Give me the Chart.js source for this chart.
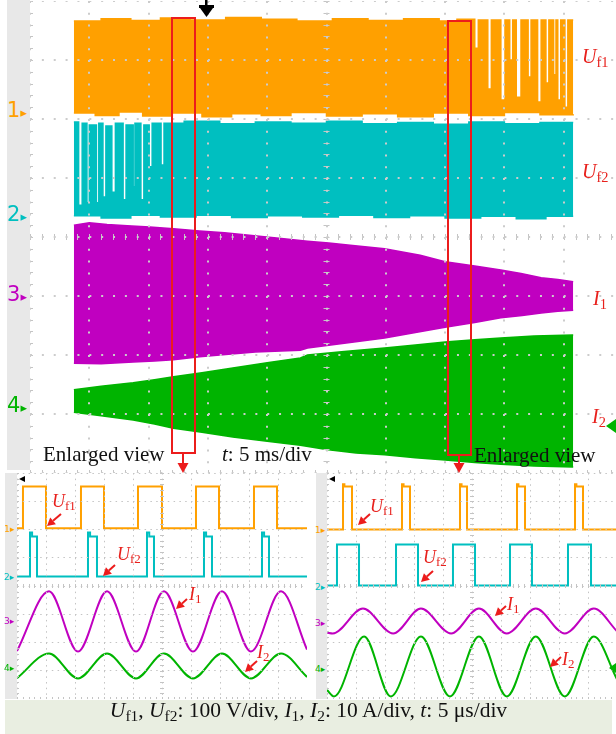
<!DOCTYPE html>
<html lang="en">
<head>
<meta charset="UTF-8">
<meta name="viewport" content="width=device-width, initial-scale=1.0">
<title>Uf1, Uf2, I1, I2 scope capture</title>
<script src="https://cdn.jsdelivr.net/npm/chart.js"></script>
<style>
    body { margin: 0; width: 616px; height: 734px; overflow: hidden; position: relative; background: #fff;
           font-family: "Liberation Serif", "DejaVu Serif", serif; }
    .clip { position: absolute; overflow: hidden; }
    .strip { position: absolute; background: #e8e8e8; }
    .t { position: absolute; white-space: nowrap; line-height: 1; color: #111; }
    .red { color: #e8201c; }
    .t i { font-style: italic; }
    .sb { font-size: 0.72em; position: relative; top: 0.25em; }
    .ch { position: absolute; line-height: 1; white-space: nowrap; font-family: "DejaVu Sans", sans-serif; }
    #caption { position: absolute; left: 5px; top: 700px; width: 607px; height: 34px; background: #e9eee1;
               text-align: center; font-size: 21.5px; line-height: 1; padding-top: 0; box-sizing: border-box; color: #111; }
    #marks { position: absolute; left: 0; top: 0; }
</style>
</head>
<body>

<div class="strip" style="left:7px;top:0;width:23px;height:470px"></div>
<div class="strip" style="left:5px;top:473px;width:12px;height:226px"></div>
<div class="strip" style="left:316px;top:473px;width:11px;height:226px"></div>

<div class="clip" style="left:30px;top:1px;width:586px;height:472px"><canvas id="longView" width="593" height="472"></canvas></div>
<div class="clip" style="left:17px;top:473px;width:290px;height:226px"><canvas id="zoomLeft" width="290" height="226"></canvas></div>
<div class="clip" style="left:327px;top:473px;width:289px;height:226px"><canvas id="zoomRight" width="290" height="226"></canvas></div>

<!-- channel markers -->
<div class="ch" style="left:7px;top:100px;font-size:21px;color:#ffa000">1<span style="font-size:13px">▸</span></div>
<div class="ch" style="left:7px;top:204px;font-size:21px;color:#00bfc0">2<span style="font-size:13px">▸</span></div>
<div class="ch" style="left:7px;top:284px;font-size:21px;color:#c000c0">3<span style="font-size:13px">▸</span></div>
<div class="ch" style="left:7px;top:395px;font-size:21px;color:#00b400">4<span style="font-size:13px">▸</span></div>

<div class="ch" style="left:4px;top:525px;font-size:9px;color:#ffa000">1▸</div>
<div class="ch" style="left:4px;top:573px;font-size:9px;color:#00bfc0">2▸</div>
<div class="ch" style="left:4px;top:617px;font-size:9px;color:#c000c0">3▸</div>
<div class="ch" style="left:4px;top:664px;font-size:9px;color:#00b400">4▸</div>
<div class="ch" style="left:315px;top:526px;font-size:9px;color:#ffa000">1▸</div>
<div class="ch" style="left:315px;top:583px;font-size:9px;color:#00bfc0">2▸</div>
<div class="ch" style="left:315px;top:619px;font-size:9px;color:#c000c0">3▸</div>
<div class="ch" style="left:315px;top:665px;font-size:9px;color:#00b400">4▸</div>

<!-- trace names, long view -->
<div class="t red" style="left:582px;top:46px;font-size:20px"><i>U</i><span class="sb">f1</span></div>
<div class="t red" style="left:582px;top:161px;font-size:20px"><i>U</i><span class="sb">f2</span></div>
<div class="t red" style="left:593px;top:288px;font-size:20px"><i>I</i><span class="sb">1</span></div>
<div class="t red" style="left:592px;top:406px;font-size:20px"><i>I</i><span class="sb">2</span></div>

<div class="t" style="left:43px;top:444px;font-size:21px">Enlarged view</div>
<div class="t" style="left:222px;top:444px;font-size:21px"><i>t</i>: 5 ms/div</div>
<div class="t" style="left:474px;top:445px;font-size:21px">Enlarged view</div>

<!-- trace names, enlarged views -->
<div class="t red" style="left:52px;top:492px;font-size:18px"><i>U</i><span class="sb">f1</span></div>
<div class="t red" style="left:117px;top:545px;font-size:18px"><i>U</i><span class="sb">f2</span></div>
<div class="t red" style="left:189px;top:585px;font-size:18px"><i>I</i><span class="sb">1</span></div>
<div class="t red" style="left:257px;top:643px;font-size:18px"><i>I</i><span class="sb">2</span></div>
<div class="t red" style="left:370px;top:497px;font-size:18px"><i>U</i><span class="sb">f1</span></div>
<div class="t red" style="left:423px;top:548px;font-size:18px"><i>U</i><span class="sb">f2</span></div>
<div class="t red" style="left:507px;top:595px;font-size:18px"><i>I</i><span class="sb">1</span></div>
<div class="t red" style="left:562px;top:650px;font-size:18px"><i>I</i><span class="sb">2</span></div>

<div id="caption"><i>U</i><span class="sb">f1</span>, <i>U</i><span class="sb">f2</span>: 100 V/div, <i>I</i><span class="sb">1</span>, <i>I</i><span class="sb">2</span>: 10 A/div, <i>t</i>: 5 μs/div</div>

<svg id="marks" width="616" height="734"></svg>

<script>
    // long capture, t in ms (5 ms/div), values in screen divisions (centre = 0)
    const uf1Top = [[3.7, 3.66], [6.0, 3.70], [8.5, 3.67], [11.0, 3.71], [13.5, 3.68], [16.5, 3.72], [19.5, 3.69],
        [22.5, 3.66], [25.5, 3.70], [28.5, 3.67], [31.5, 3.70], [34.5, 3.66], [36.0, 3.69],
        [37.5, 3.20], [37.8, 3.68], [38.6, 2.51], [38.9, 3.68], [39.7, 2.32], [40.05, 3.68], [40.45, 3.00],
        [40.7, 3.68], [41.0, 2.37], [41.4, 3.68], [42.0, 2.71], [42.25, 3.68], [42.8, 2.29], [43.1, 3.68],
        [43.5, 2.61], [43.75, 3.68], [44.15, 2.75], [44.35, 3.68], [44.5, 2.32], [44.75, 3.68],
        [45.1, 2.20], [45.35, 3.68], [45.8, 3.68]];
    const uf1Bottom = [[3.7, 2.10], [5.5, 2.06], [7.5, 2.12], [9.5, 2.05], [12.0, 2.10], [14.5, 2.04], [17.0, 2.09],
        [19.5, 2.06], [22.0, 2.11], [25.0, 2.05], [28.0, 2.09], [31.0, 2.04], [34.0, 2.10], [37.0, 2.06],
        [40.0, 2.11], [43.0, 2.07], [45.8, 2.08]];

    const uf2Top = [[3.7, 1.95], [4.1, 0.54], [4.4, 1.93], [4.8, 0.58], [5.0, 1.90], [5.6, 0.58], [5.8, 1.93],
        [6.15, 0.68], [6.4, 1.88], [6.9, 0.76], [7.2, 1.93], [7.85, 0.63], [8.1, 1.90], [8.7, 0.85], [8.85, 1.93],
        [9.35, 0.63], [9.6, 1.90], [10.05, 1.19], [10.3, 1.93], [11.05, 1.22], [11.3, 1.93], [13.0, 1.96],
        [16.0, 1.92], [19.0, 1.95], [22.0, 1.93], [25.0, 1.96], [28.0, 1.92], [31.0, 1.94], [34.0, 1.91],
        [37.0, 1.95], [40.0, 1.92], [43.0, 1.94], [45.8, 1.94]];
    const uf2Bottom = [[3.7, 0.36], [6.0, 0.32], [8.5, 0.37], [11.0, 0.34], [14.0, 0.37], [17.0, 0.33], [20.0, 0.36],
        [23.0, 0.34], [26.0, 0.37], [29.0, 0.33], [32.0, 0.36], [35.0, 0.32], [38.0, 0.35], [41.0, 0.31],
        [43.5, 0.35], [45.8, 0.35]];

    const i1Top = [[3.7, 0.20], [5.0, 0.24], [6.5, 0.21], [8.2, 0.19], [10.1, 0.17], [12.1, 0.14], [14.3, 0.10],
        [16.4, 0.07], [18.5, 0.03], [21.0, -0.02], [23.4, -0.07], [25.2, -0.10], [27.0, -0.14], [29.9, -0.20],
        [32.9, -0.31], [35.0, -0.42], [37.5, -0.49], [39.7, -0.56], [41.4, -0.62], [43.1, -0.69], [44.5, -0.72],
        [45.8, -0.76]];
    const i1Bottom = [[3.7, -2.14], [6.0, -2.15], [8.7, -2.12], [10.5, -2.10], [12.1, -2.08], [14.3, -2.03],
        [16.5, -1.99], [19.0, -1.95], [22.8, -1.92], [23.4, -1.88], [26.5, -1.80], [29.9, -1.71], [32.5, -1.62],
        [35.0, -1.53], [37.5, -1.45], [39.7, -1.37], [41.5, -1.33], [43.1, -1.29], [44.5, -1.26], [45.8, -1.24]];

    const i2Top = [[3.7, -2.59], [6.0, -2.53], [8.7, -2.47], [10.5, -2.42], [12.1, -2.37], [14.5, -2.30],
        [17.1, -2.22], [20.0, -2.13], [22.8, -2.05], [23.4, -2.00], [26.5, -1.94], [29.9, -1.88], [32.5, -1.83],
        [35.0, -1.78], [37.5, -1.74], [39.7, -1.71], [42.5, -1.68], [45.8, -1.66]];
    const i2Bottom = [[3.7, -2.97], [6.0, -3.03], [8.7, -3.10], [10.5, -3.17], [12.1, -3.24], [14.5, -3.31],
        [17.1, -3.39], [20.0, -3.46], [22.8, -3.53], [25.0, -3.60], [27.5, -3.66], [29.9, -3.69], [32.5, -3.74],
        [35.0, -3.78], [37.5, -3.82], [39.7, -3.85], [42.5, -3.88], [45.8, -3.90]];

    // enlarged views, t in us (5 us/div), values in screen divisions
    const leftUf1 = [[0, 2.04], [1.03, 3.52], [5.0, 2.04], [11.03, 3.52], [15.0, 2.04], [20.86, 3.52], [25.0, 2.04],
        [30.86, 3.52], [34.83, 2.04], [40.86, 3.52], [44.83, 2.04], [50, 2.04]];
    const leftUf2 = [[0, 0.34], [2.24, 1.89], [2.6, 1.75], [3.45, 0.34], [12.24, 1.89], [12.6, 1.75], [13.79, 0.34],
        [22.41, 1.89], [22.8, 1.75], [23.62, 0.34], [32.24, 1.89], [32.6, 1.75], [33.62, 0.34], [42.24, 1.89],
        [42.6, 1.75], [43.45, 0.34], [50, 0.34]];
    const leftI1 = [[0, -2.30], [5.52, -0.19], [10.52, -2.32], [15.52, -0.19], [20.52, -2.32], [25.34, -0.19],
        [30.34, -2.32], [35.34, -0.19], [40.34, -2.32], [45.52, -0.19], [50, -2.25]];
    const leftI2 = [[0, -3.26], [5.52, -2.39], [10.52, -3.27], [15.52, -2.39], [20.52, -3.27], [25.34, -2.39],
        [30.34, -3.27], [35.34, -2.39], [40.34, -3.27], [45.52, -2.39], [50, -3.22]];

    const rightUf1 = [[0, 2.0], [2.76, 3.60], [3.0, 3.52], [4.31, 2.0], [12.93, 3.60], [13.2, 3.52], [14.31, 2.0],
        [22.93, 3.60], [23.2, 3.52], [24.14, 2.0], [32.76, 3.60], [33.0, 3.52], [34.14, 2.0], [42.76, 3.60],
        [43.0, 3.52], [44.14, 2.0], [50, 2.0]];
    const rightUf2 = [[0, 0.02], [1.72, 1.47], [5.52, 0.02], [11.9, 1.47], [15.69, 0.02], [21.72, 1.47],
        [25.52, 0.02], [31.55, 1.47], [35.34, 0.02], [41.55, 1.47], [45.52, 0.02], [50, 0.02]];
    const rightI1 = [[0, -1.65], [1.0, -1.68], [6.2, -0.80], [11.4, -1.68], [16.2, -0.80], [21.4, -1.68],
        [26.2, -0.80], [31.0, -1.68], [36.0, -0.80], [41.0, -1.68], [46.0, -0.80], [50, -1.60]];
    const rightI2 = [[0, -3.68], [1.2, -3.91], [6.4, -1.79], [11.0, -3.91], [16.2, -1.79], [21.2, -3.91],
        [26.2, -1.79], [31.0, -3.91], [36.0, -1.79], [41.0, -3.91], [46.0, -1.79], [50, -3.30]];

    const ORANGE = '#ffa000', CYAN = '#00bfc0', MAGENTA = '#c000c0', GREEN = '#00b400', RED = '#ec1c1c';

    const xy = pts => pts.map(([x, y]) => ({x, y}));

    function band(top, bottom, color, stepped) {
        const base = {borderColor: color, backgroundColor: color, borderWidth: 1.5, pointRadius: 0, stepped: stepped};
        return [
            {...base, data: xy(top), fill: '+1'},
            {...base, data: xy(bottom), fill: false}
        ];
    }

    function trace(pts, color, square) {
        return {
            data: xy(pts), borderColor: color, borderWidth: 2, pointRadius: 0, fill: false,
            stepped: square, cubicInterpolationMode: square ? 'default' : 'monotone'
        };
    }

    // minor ticks on the centre lines and on the left / bottom edges
    const scopeTicks = {
        id: 'scopeTicks',
        afterDatasetsDraw(chart, args, opts) {
            const ctx = chart.ctx, sx = chart.scales.x, sy = chart.scales.y;
            const xm = (sx.min + sx.max) / 2, ym = (sy.min + sy.max) / 2;
            const xMinor = opts.xStep / 5, yMinor = opts.yStep / 5, len = opts.len;
            ctx.save();
            ctx.strokeStyle = opts.color;
            ctx.lineWidth = 1;
            ctx.beginPath();
            for (let v = sx.min; v <= sx.max + 1e-6; v += xMinor) {
                const px = Math.round(sx.getPixelForValue(v)) + 0.5;
                [ym, sy.min].forEach(yv => {
                    const py = sy.getPixelForValue(yv);
                    ctx.moveTo(px, py - len);
                    ctx.lineTo(px, py + len);
                });
            }
            for (let v = sy.min; v <= sy.max + 1e-6; v += yMinor) {
                const py = Math.round(sy.getPixelForValue(v)) + 0.5;
                [xm, sx.min].forEach(xv => {
                    const px = sx.getPixelForValue(xv);
                    ctx.moveTo(px - len, py);
                    ctx.lineTo(px + len, py);
                });
            }
            ctx.stroke();
            ctx.restore();
        }
    };

    function axis(min, max, step, dash, color, width) {
        return {
            type: 'linear', min: min, max: max,
            ticks: {display: false, stepSize: step},
            grid: {color: color, lineWidth: width, drawTicks: false, z: 1, borderDash: dash},
            border: {display: false, dash: dash}
        };
    }

    function scope(id, datasets, look) {
        return new Chart(document.getElementById(id), {
            type: 'line',
            data: {datasets: datasets},
            options: {
                responsive: false, animation: false, devicePixelRatio: 1,
                layout: {padding: 0},
                plugins: {
                    legend: {display: false}, tooltip: {enabled: false},
                    filler: {drawTime: 'beforeDatasetsDraw'},
                    scopeTicks: {xStep: 5, yStep: 1, len: look.tick, color: look.tickColor}
                },
                scales: {
                    x: axis(0, 50, 5, look.xDash, look.grid, look.width),
                    y: axis(-4, 4, 1, look.yDash, look.grid, look.width)
                }
            },
            plugins: [scopeTicks]
        });
    }

    scope('longView', [
        ...band(uf1Top, uf1Bottom, ORANGE, true),
        ...band(uf2Top, uf2Bottom, CYAN, true),
        ...band(i1Top, i1Bottom, MAGENTA, false),
        ...band(i2Top, i2Bottom, GREEN, false)
    ], {xDash: [2, 9.8], yDash: [2, 9.86], grid: '#cccccc', width: 2, tick: 3, tickColor: '#c4c4c4'});

    const zoomLook = {xDash: [1.5, 4.15], yDash: [1.5, 4.3], grid: '#c4c4c4', width: 1, tick: 2, tickColor: '#c4c4c4'};
    scope('zoomLeft', [
        trace(leftUf1, ORANGE, true), trace(leftUf2, CYAN, true),
        trace(leftI1, MAGENTA, false), trace(leftI2, GREEN, false)
    ], zoomLook);
    scope('zoomRight', [
        trace(rightUf1, ORANGE, true), trace(rightUf2, CYAN, true),
        trace(rightI1, MAGENTA, false), trace(rightI2, GREEN, false)
    ], zoomLook);

    // annotation marks: enlarged-view boxes, pointer arrows, trigger markers
    const svg = document.getElementById('marks');
    function add(tag, attrs) {
        const el = document.createElementNS('http://www.w3.org/2000/svg', tag);
        for (const k in attrs) el.setAttribute(k, attrs[k]);
        svg.appendChild(el);
    }
    function arrow(x1, y1, x2, y2, color, head) {
        const dx = x2 - x1, dy = y2 - y1, L = Math.hypot(dx, dy), ux = dx / L, uy = dy / L;
        const hl = head || 8, hw = hl * 0.55;
        const bx = x2 - ux * hl, by = y2 - uy * hl;
        add('line', {x1: x1, y1: y1, x2: bx, y2: by, stroke: color, 'stroke-width': 2});
        add('polygon', {points: `${x2},${y2} ${bx - uy * hw},${by + ux * hw} ${bx + uy * hw},${by - ux * hw}`, fill: color});
    }

    add('rect', {x: 172, y: 18, width: 23, height: 435, fill: 'none', stroke: RED, 'stroke-width': 2});
    add('rect', {x: 448, y: 21, width: 23, height: 434, fill: 'none', stroke: RED, 'stroke-width': 2});
    arrow(183, 453, 183, 473, RED, 10);
    arrow(459, 455, 459, 473, RED, 10);

    arrow(61, 514, 47, 526, RED);
    arrow(115, 565, 103, 576, RED);
    arrow(187, 599, 176, 609, RED);
    arrow(257, 661, 245, 672, RED);
    arrow(370, 514, 358, 525, RED);
    arrow(433, 571, 421, 582, RED);
    arrow(506, 606, 495, 616, RED);
    arrow(561, 657, 550, 667, RED);

    // trigger position
    add('rect', {x: 205, y: 0, width: 2.5, height: 8, fill: '#000'});
    add('rect', {x: 199, y: 5, width: 15, height: 3, fill: '#000'});
    add('polygon', {points: '200,8 213,8 206.5,17', fill: '#000'});
    add('polygon', {points: '19,479 25,476 25,482', fill: '#000'});
    add('polygon', {points: '329,479 335,476 335,482', fill: '#000'});
    // channel 4 offset markers at the right edge
    add('polygon', {points: '606,426 616,419 616,433', fill: GREEN});
    add('polygon', {points: '609,668 616,663 616,673', fill: GREEN});
</script>
</body>
</html>
